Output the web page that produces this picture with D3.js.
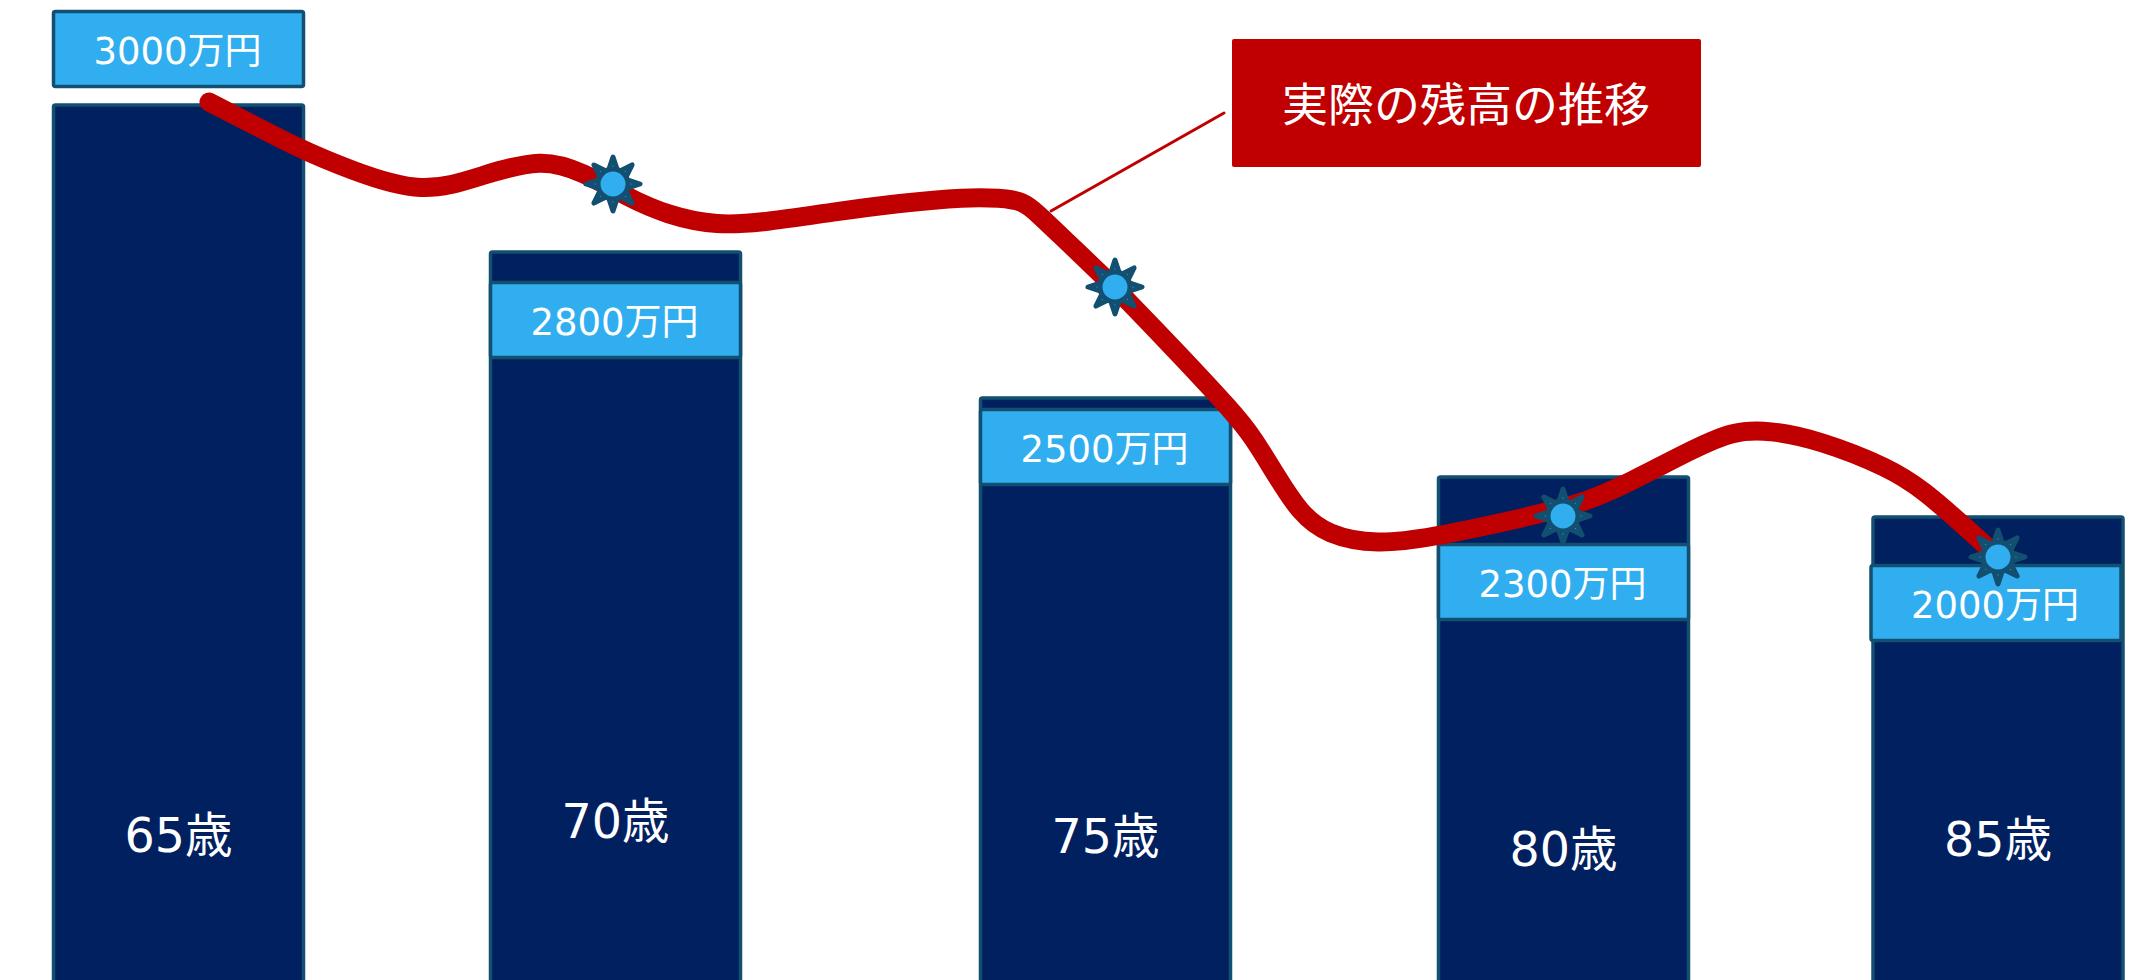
<!DOCTYPE html>
<html>
<head>
<meta charset="utf-8">
<script src="https://cdn.jsdelivr.net/npm/d3@7"></script>
<style>
  html, body { margin: 0; padding: 0; background: #fff; overflow: hidden; }
  svg { display: block; }
  text { font-family: "DejaVu Sans", "Noto Sans CJK JP", sans-serif; fill: #fff; text-anchor: middle; dominant-baseline: central; }
</style>
</head>
<body>
<div id="chart"></div>
<script>
// the picture is a hand placed diagram, so values are read in picture units (height above the bottom edge)
const ages = ["65歳", "70歳", "75歳", "80歳", "85歳"];
const balanceLabels = ["3000万円", "2800万円", "2500万円", "2300万円", "2000万円"];
const barCentres = [178.5, 615.5, 1105.5, 1563.5, 1998];
const barLevels = [875, 728, 582, 503, 463];
const labelCentres = [178.5, 615.5, 1105.5, 1563.5, 1996];
const labelLevels = [931, 660, 533, 398, 377];
const ageLevels = [145, 159, 144, 131, 141];

const curveX = [209, 250, 300, 350, 423, 483, 542, 583, 627, 667, 717, 767, 833, 900, 967, 1000, 1023, 1037, 1060, 1083, 1107, 1125, 1177, 1233, 1253, 1277, 1300, 1327, 1377, 1433, 1500, 1583, 1628, 1695, 1733, 1769, 1819, 1890, 1923, 1961, 1998];
const curveLevel = [878, 857, 831, 810, 785, 805, 822, 808, 783, 765, 754, 758, 768, 777, 783, 782, 779, 767, 745, 723, 700, 682, 628, 568, 543, 503, 467, 445, 435, 443, 457, 476, 497, 532, 549, 550, 540, 512, 490, 457, 423];

const markerX = [613, 1115, 1563, 1998];
const markerLevel = [796, 693, 464, 423];

const width = 2146;
const height = 980;
const barWidth = 250;
const labelHeight = 75;

const x = d3.scaleLinear().domain([0, width]).range([0, width]);
const y = d3.scaleLinear().domain([0, height]).range([height, 0]);

const svg = d3.select("#chart").append("svg")
    .attr("width", width)
    .attr("height", height);

// bars, run off the bottom edge
svg.append("g").selectAll("rect")
    .data(barLevels)
    .join("rect")
    .attr("x", (d, i) => x(barCentres[i]) - barWidth / 2)
    .attr("y", d => y(d))
    .attr("width", barWidth)
    .attr("height", d => y(0) - y(d) + 10)
    .attr("rx", 2)
    .attr("fill", "#00205f")
    .attr("stroke", "#124f70")
    .attr("stroke-width", 3.5);

// balance labels
const labels = svg.append("g").selectAll("g")
    .data(balanceLabels)
    .join("g")
    .attr("transform", (d, i) => `translate(${x(labelCentres[i])},${y(labelLevels[i])})`);

labels.append("rect")
    .attr("x", -barWidth / 2)
    .attr("y", -labelHeight / 2)
    .attr("width", barWidth)
    .attr("height", labelHeight)
    .attr("rx", 2)
    .attr("fill", "#31aeef")
    .attr("stroke", "#124f70")
    .attr("stroke-width", 3.5);

labels.append("text")
    .attr("x", -1)
    .attr("y", 2)
    .attr("font-size", 37)
    .text(d => d);

// age labels
svg.append("g").selectAll("text")
    .data(ages)
    .join("text")
    .attr("x", (d, i) => x(barCentres[i]))
    .attr("y", (d, i) => y(ageLevels[i]))
    .attr("font-size", 47.5)
    .text(d => d);

// balance curve
const line = d3.line()
    .x(d => x(d))
    .y((d, i) => y(curveLevel[i]))
    .curve(d3.curveBasis);

svg.append("path")
    .attr("d", line(curveX))
    .attr("fill", "none")
    .attr("stroke", "#c00000")
    .attr("stroke-width", 19)
    .attr("stroke-linecap", "round")
    .attr("stroke-linejoin", "round");

// callout
svg.append("line")
    .attr("x1", x(1051)).attr("y1", y(769))
    .attr("x2", x(1224)).attr("y2", y(867))
    .attr("stroke", "#c00000")
    .attr("stroke-width", 3)
    .attr("stroke-linecap", "round");

svg.append("rect")
    .attr("x", x(1232)).attr("y", y(941))
    .attr("width", 469).attr("height", 128)
    .attr("rx", 2)
    .attr("fill", "#c00000");

svg.append("text")
    .attr("x", x(1466))
    .attr("y", y(875))
    .attr("font-size", 46)
    .text("実際の残高の推移");

// 8 point star markers
const starPoints = d3.range(16).map(i => [i * Math.PI / 8, i % 2 ? 13 : 27]);
const star = d3.lineRadial().curve(d3.curveLinearClosed)(starPoints);

const markers = svg.append("g").selectAll("g")
    .data(markerX)
    .join("g")
    .attr("transform", (d, i) => `translate(${x(d)},${y(markerLevel[i])})`);

markers.append("path")
    .attr("d", star)
    .attr("fill", "#31aeef")
    .attr("stroke", "#124f70")
    .attr("stroke-width", 5)
    .attr("stroke-linejoin", "round");

markers.append("circle")
    .attr("r", 15)
    .attr("fill", "#31aeef")
    .attr("stroke", "#124f70")
    .attr("stroke-width", 5);
</script>
</body>
</html>
